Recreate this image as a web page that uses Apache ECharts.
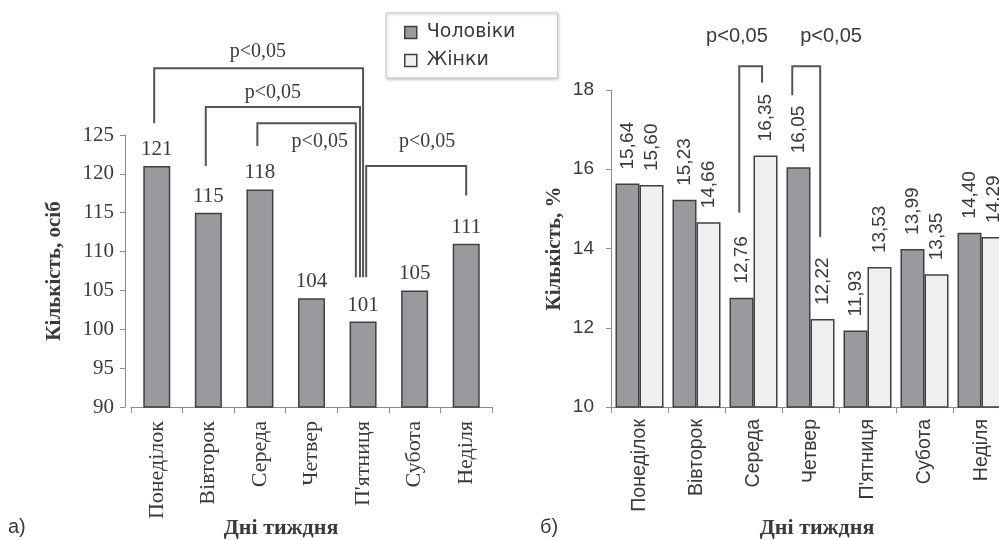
<!DOCTYPE html>
<html><head><meta charset="utf-8">
<script src="https://cdn.jsdelivr.net/npm/echarts@6/dist/echarts.min.js"></script>
<style>html,body{margin:0;padding:0;background:#fff;overflow:hidden;width:999px;height:540px}#c{width:1016px;height:540px}</style>
</head><body><div id="c"></div>
<script>
// ---- data ----
const days = ['Понеділок','Вівторок','Середа','Четвер',"П'ятниця",'Субота','Неділя'];
const countAll = [121,115,118,104,101,105,111];
const pctMen = [15.64,15.23,12.76,16.05,11.93,13.99,14.40];
const pctWomen = [15.60,14.66,16.35,12.22,13.53,13.35,14.29];
const leftTicks = {min:90, max:125, step:5};
const rightTicks = {min:10, max:18, step:2};
// significance brackets (category index + fraction, value units)
const leftBrackets = [
  {x1:-0.05, x2:4.0, top:133.6, y1:126.5, y2:106.7, tx:1.96, ty:135.7, text:'p<0,05'},
  {x1:0.95, x2:3.94, top:128.6, y1:121.0, y2:106.7, tx:2.25, ty:130.5, text:'p<0,05'},
  {x1:1.95, x2:3.86, top:126.5, y1:123.6, y2:106.7, tx:3.16, ty:124.1, text:'p<0,05'},
  {x1:4.06, x2:6.0, top:121.0, y1:106.7, y2:117.2, tx:5.24, ty:124.1, text:'p<0,05'}
];
const rightBrackets = [
  {x1:1.75, x2:2.15, top:18.6, y1:14.9, y2:18.18, tx:1.71, ty:19.34, text:'p<0,05'},
  {x1:2.68, x2:3.17, top:18.6, y1:17.87, y2:14.29, tx:3.36, ty:19.34, text:'p<0,05'}
];

const serif = 'Liberation Serif';
const sans = 'Liberation Sans';
const txt = '#3a3a3a';
const axisCol = '#8c8c8c';
const dark = '#9a9a9e', light = '#eeeff1', edge = '#404040';

function bracketSeries(list, xi, yi, font, size){
  return {
    type:'custom', xAxisIndex:xi, yAxisIndex:yi, clip:false, silent:true, z:5,
    data: list.map((b,i)=>[i]),
    renderItem: function(params, api){
      const b = list[params.dataIndex];
      const bw = api.size([1,0])[0];
      const px = (x,y)=>{ const i=Math.floor(x+0.5); const f=x-i; const p=api.coord([i,y]); return [p[0]+f*bw, p[1]]; };
      const a=px(b.x1,b.y1), t1=px(b.x1,b.top), t2=px(b.x2,b.top), c=px(b.x2,b.y2), tp=px(b.tx,b.ty);
      return {type:'group', children:[
        {type:'polyline', shape:{points:[a,t1,t2,c]}, style:{stroke:'#555', lineWidth:2, fill:null}},
        {type:'text', style:{x:tp[0], y:tp[1], text:b.text, font: size+'px "'+font+'"', fill:txt, align:'center', verticalAlign:'middle'}}
      ]};
    }
  };
}

const chart = echarts.init(document.getElementById('c'), null, {renderer:'canvas'});
chart.setOption({
  animation:false,
  backgroundColor:'#fff',
  legend:{
    data:['Чоловіки','Жінки'], orient:'vertical', left:386, top:13,
    padding:[10,42,8,18], itemGap:9, itemWidth:12, itemHeight:12, icon:'rect',
    backgroundColor:'#fff', borderColor:'#c8c8c8', borderWidth:1,
    shadowColor:'rgba(0,0,0,0.25)', shadowBlur:3, shadowOffsetX:1, shadowOffsetY:1,
    itemStyle:{borderColor:edge, borderWidth:1.5},
    textStyle:{fontFamily:'DejaVu Sans', fontSize:19, color:txt, padding:[0,0,0,5]}
  },
  grid:[
    {left:131, top:135, width:361, height:272},
    {left:611, top:90, width:399, height:317}
  ],
  xAxis:[
    {type:'category', gridIndex:0, data:days, boundaryGap:true,
     axisLine:{lineStyle:{color:axisCol}}, axisTick:{show:true, length:6, lineStyle:{color:axisCol}},
     axisLabel:{rotate:90, margin:14, fontFamily:serif, fontSize:22, color:txt, interval:0}},
    {type:'category', gridIndex:1, data:days, boundaryGap:true,
     axisLine:{lineStyle:{color:axisCol}}, axisTick:{show:true, length:6, lineStyle:{color:axisCol}},
     axisLabel:{rotate:90, margin:12, fontFamily:sans, fontSize:19.5, color:txt, interval:0}}
  ],
  yAxis:[
    {type:'value', gridIndex:0, min:leftTicks.min, max:leftTicks.max, interval:leftTicks.step, offset:6,
     axisLine:{show:true, lineStyle:{color:axisCol}}, axisTick:{show:true, length:5, lineStyle:{color:axisCol}},
     splitLine:{show:false},
     axisLabel:{fontFamily:serif, fontSize:21, color:txt, margin:11},
     name:'Кількість, осіб', nameLocation:'middle', nameRotate:90, nameGap:60,
     nameTextStyle:{fontFamily:serif, fontSize:21, fontWeight:'bold', color:txt}},
    {type:'value', gridIndex:1, min:rightTicks.min, max:rightTicks.max, interval:rightTicks.step,
     axisLine:{show:true, lineStyle:{color:axisCol}}, axisTick:{show:true, length:5, lineStyle:{color:axisCol}},
     splitLine:{show:false},
     axisLabel:{fontFamily:sans, fontSize:19, color:txt, margin:17},
     name:'Кількість, %', nameLocation:'middle', nameRotate:90, nameGap:46,
     nameTextStyle:{fontFamily:serif, fontSize:21, fontWeight:'bold', color:txt}}
  ],
  series:[
    {type:'bar', name:'Усі', xAxisIndex:0, yAxisIndex:0, data:countAll, barWidth:27,
     itemStyle:{color:dark, borderColor:edge, borderWidth:1.5},
     label:{show:true, position:'top', distance:6, fontFamily:serif, fontSize:21, color:txt}},
    {type:'bar', name:'Чоловіки', xAxisIndex:1, yAxisIndex:1, data:pctMen, barWidth:24, barGap:'0%',
     itemStyle:{color:dark, borderColor:edge, borderWidth:1.5},
     label:{show:true, position:'top', rotate:90, align:'left', verticalAlign:'middle', distance:14,
            formatter:p=>p.value.toFixed(2).replace('.',','), fontFamily:sans, fontSize:19, color:txt}},
    {type:'bar', name:'Жінки', xAxisIndex:1, yAxisIndex:1, data:pctWomen, barWidth:24, barGap:'0%',
     itemStyle:{color:light, borderColor:edge, borderWidth:1.5},
     label:{show:true, position:'top', rotate:90, align:'left', verticalAlign:'middle', distance:14,
            formatter:p=>p.value.toFixed(2).replace('.',','), fontFamily:sans, fontSize:19, color:txt}},
    bracketSeries(leftBrackets, 0, 0, serif, 20),
    bracketSeries(rightBrackets, 1, 1, sans, 20)
  ],
  graphic:[
    {type:'text', style:{x:281, y:528, text:'Дні тиждня', font:'bold 22px "Liberation Serif"', fill:txt, align:'center', verticalAlign:'middle'}},
    {type:'text', style:{x:817, y:528, text:'Дні тиждня', font:'bold 22px "Liberation Serif"', fill:txt, align:'center', verticalAlign:'middle'}},
    {type:'text', style:{x:8, y:527, text:'а)', font:'20px "Liberation Sans"', fill:txt, verticalAlign:'middle'}},
    {type:'text', style:{x:540, y:527, text:'б)', font:'20px "Liberation Sans"', fill:txt, verticalAlign:'middle'}}
  ]
});
</script></body></html>
